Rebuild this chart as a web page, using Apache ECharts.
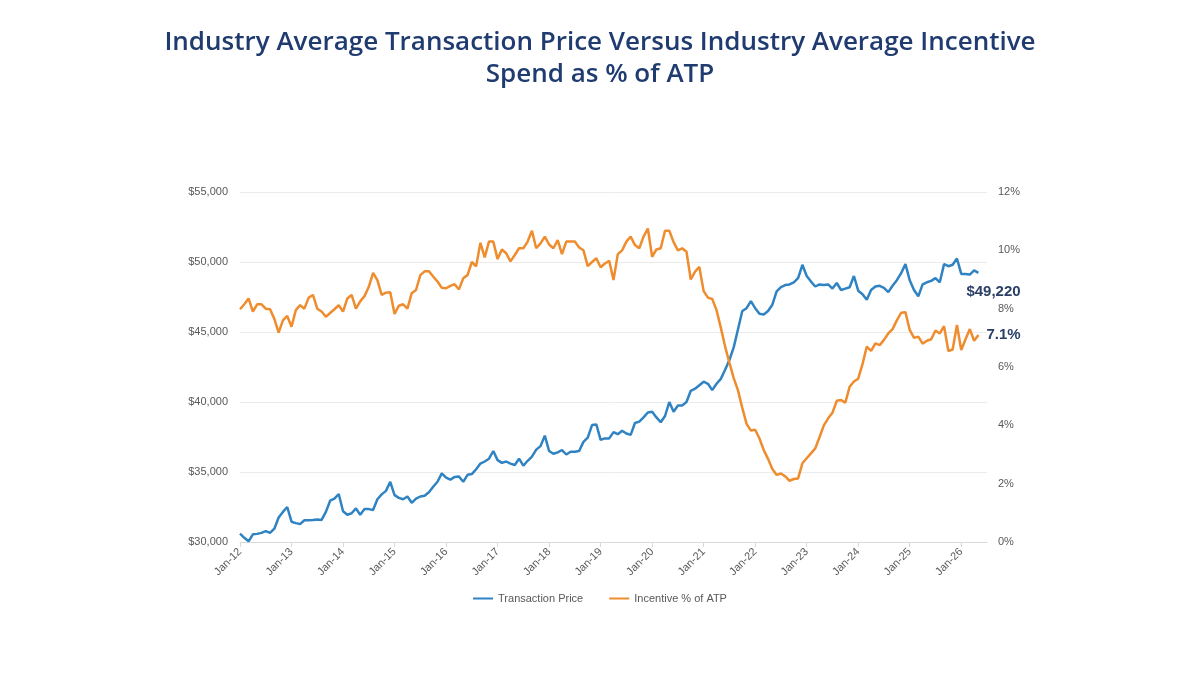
<!DOCTYPE html>
<html>
<head>
<meta charset="utf-8">
<title>ATP vs Incentive</title>
<script src="https://cdn.jsdelivr.net/npm/echarts@6/dist/echarts.min.js"></script>
<style>
  html, body { margin: 0; padding: 0; background: #fff; }
  #chart { width: 1200px; height: 675px; }
</style>
</head>
<body>
<div id="chart"></div>
<script>
// monthly, Jan-12 onwards (last point ~May-26)
const atpValues = [
  30600, 30300, 30050, 30550, 30580, 30650, 30780, 30650, 30950, 31750, 32150, 32500,
  31450, 31350, 31280, 31550, 31550, 31570, 31600, 31580, 32150, 32950, 33100, 33430,
  32200, 31950, 32050, 32400, 31950, 32350, 32350, 32280, 33050, 33400, 33650, 34300,
  33350, 33150, 33050, 33250, 32800, 33100, 33250, 33300, 33550, 33950, 34300, 34900,
  34600, 34450, 34650, 34680, 34300, 34800, 34850, 35200, 35600, 35750, 35950, 36500,
  35850, 35650, 35750, 35600, 35500, 35950, 35450, 35800, 36100, 36600, 36850, 37600,
  36500, 36300, 36400, 36570, 36250, 36450, 36450, 36500, 37150, 37450, 38350, 38400,
  37300, 37400, 37400, 37850, 37700, 37950, 37750, 37650, 38500, 38600, 38900, 39250,
  39300, 38900, 38550, 39000, 40000, 39300, 39750, 39750, 40000, 40800, 40950, 41200,
  41450, 41300, 40850, 41300, 41650, 42300, 43000, 43900, 45200, 46500, 46700, 47200,
  46700, 46300, 46250, 46500, 46950, 47900, 48200, 48350, 48400, 48550, 48850, 49800,
  49000, 48600, 48250, 48400, 48350, 48400, 48100, 48500, 48000, 48100, 48200, 49000,
  47950, 47700, 47300, 48000, 48250, 48300, 48150, 47850, 48300, 48700, 49200, 49850,
  48700, 48000, 47550, 48400, 48550, 48650, 48850, 48550, 49850, 49700, 49800, 50250,
  49150, 49150, 49100, 49400, 49220
];

const incentivePct = [
  7.98, 8.15, 8.35, 7.90, 8.15, 8.15, 8.00, 7.98, 7.65, 7.18, 7.60, 7.75,
  7.38, 7.95, 8.12, 8.00, 8.38, 8.47, 8.00, 7.90, 7.72, 7.85, 7.98, 8.12,
  7.90, 8.35, 8.47, 8.00, 8.25, 8.43, 8.75, 9.23, 8.98, 8.47, 8.55, 8.56,
  7.82, 8.10, 8.15, 8.00, 8.53, 8.64, 9.15, 9.28, 9.28, 9.10, 8.93, 8.72,
  8.70, 8.78, 8.84, 8.66, 9.04, 9.15, 9.60, 9.45, 10.26, 9.76, 10.30, 10.30,
  9.70, 10.03, 9.90, 9.62, 9.84, 10.07, 10.07, 10.30, 10.67, 10.07, 10.24, 10.47,
  10.20, 10.07, 10.35, 9.87, 10.30, 10.30, 10.30, 10.10, 10.00, 9.46, 9.60, 9.73,
  9.42, 9.55, 9.64, 8.98, 9.87, 10.00, 10.30, 10.47, 10.18, 10.07, 10.47, 10.75,
  9.78, 10.03, 10.07, 10.67, 10.67, 10.28, 10.00, 10.07, 9.95, 9.00, 9.27, 9.43,
  8.60, 8.38, 8.33, 7.95, 7.35, 6.70, 6.15, 5.62, 5.20, 4.60, 4.05, 3.82,
  3.85, 3.55, 3.15, 2.85, 2.50, 2.30, 2.35, 2.25, 2.10, 2.16, 2.18, 2.70,
  2.87, 3.04, 3.21, 3.60, 4.00, 4.24, 4.43, 4.84, 4.87, 4.78, 5.32, 5.50,
  5.60, 6.10, 6.70, 6.55, 6.81, 6.75, 6.93, 7.15, 7.30, 7.60, 7.86, 7.88,
  7.27, 7.00, 7.04, 6.80, 6.90, 6.95, 7.25, 7.15, 7.40, 6.55, 6.60, 7.44,
  6.58, 6.95, 7.30, 6.90, 7.10
];

// category labels Jan-12 .. Jul-26
const monthNames = ['Jan','Feb','Mar','Apr','May','Jun','Jul','Aug','Sep','Oct','Nov','Dec'];
const months = [];
for (let y = 12; y <= 26; y++) {
  for (let m = 0; m < 12; m++) {
    if (y === 26 && m > 6) break;
    months.push(monthNames[m] + '-' + y);
  }
}

const priceTicks = { min: 30000, max: 55000, step: 5000 };
const pctTicks = { min: 0, max: 12, step: 2 };

const blue = '#3083c3';
const orange = '#ee8c2e';
const axisGray = '#595959';
const labelFont = '"Liberation Sans", Arial, sans-serif';

const chart = echarts.init(document.getElementById('chart'));

const everyYear = (idx) => idx % 12 === 0;

chart.setOption({
  animation: false,
  title: {
    text: 'Industry Average Transaction Price Versus Industry Average Incentive\nSpend as % of ATP',
    left: 'center',
    top: 22,
    textStyle: {
      fontFamily: '"Open Sans", sans-serif',
      fontSize: 26,
      fontWeight: 600,
      color: '#1f3b6f',
      lineHeight: 32
    }
  },
  grid: { left: 240, right: 213, top: 192, bottom: 133 },
  legend: {
    bottom: 66,
    left: 'center',
    icon: 'rect',
    itemWidth: 20,
    itemHeight: 2,
    itemGap: 26,
    textStyle: { color: axisGray, fontSize: 11, fontFamily: labelFont },
    data: ['Transaction Price', 'Incentive % of ATP']
  },
  xAxis: {
    type: 'category',
    data: months,
    boundaryGap: false,
    axisLine: { lineStyle: { color: '#d9d9d9' } },
    axisTick: { interval: (i) => everyYear(i), length: 5, lineStyle: { color: '#d9d9d9' } },
    axisLabel: {
      interval: (i) => everyYear(i),
      rotate: 45,
      color: axisGray,
      fontSize: 11,
      fontFamily: labelFont,
      margin: 8
    },
    splitLine: { show: false }
  },
  yAxis: [
    {
      type: 'value',
      min: priceTicks.min,
      max: priceTicks.max,
      interval: priceTicks.step,
      axisLine: { show: false },
      axisTick: { show: false },
      axisLabel: {
        color: axisGray,
        fontSize: 11,
        fontFamily: labelFont,
        margin: 12,
        formatter: (v) => '$' + v.toLocaleString('en-US')
      },
      splitLine: { lineStyle: { color: '#ebebeb' } }
    },
    {
      type: 'value',
      min: pctTicks.min,
      max: pctTicks.max,
      interval: pctTicks.step,
      axisLine: { show: false },
      axisTick: { show: false },
      axisLabel: {
        color: axisGray,
        fontSize: 11,
        fontFamily: labelFont,
        margin: 11,
        formatter: '{value}%'
      },
      splitLine: { show: false }
    }
  ],
  series: [
    {
      name: 'Transaction Price',
      type: 'line',
      yAxisIndex: 0,
      data: atpValues,
      symbol: 'none',
      color: blue,
      lineStyle: { width: 2.5, color: blue },
      endLabel: {
        show: true,
        offset: [-20, 19],
        color: '#2b3f66',
        fontSize: 15,
        fontWeight: 'bold',
        fontFamily: labelFont,
        formatter: (p) => '$' + p.value.toLocaleString('en-US')
      }
    },
    {
      name: 'Incentive % of ATP',
      type: 'line',
      yAxisIndex: 1,
      data: incentivePct,
      symbol: 'none',
      color: orange,
      lineStyle: { width: 2.5, color: orange },
      endLabel: {
        show: true,
        distance: 8,
        color: '#2b3f66',
        fontSize: 15,
        fontWeight: 'bold',
        fontFamily: labelFont,
        formatter: (p) => p.value.toFixed(1) + '%'
      }
    }
  ]
});
</script>
</body>
</html>
